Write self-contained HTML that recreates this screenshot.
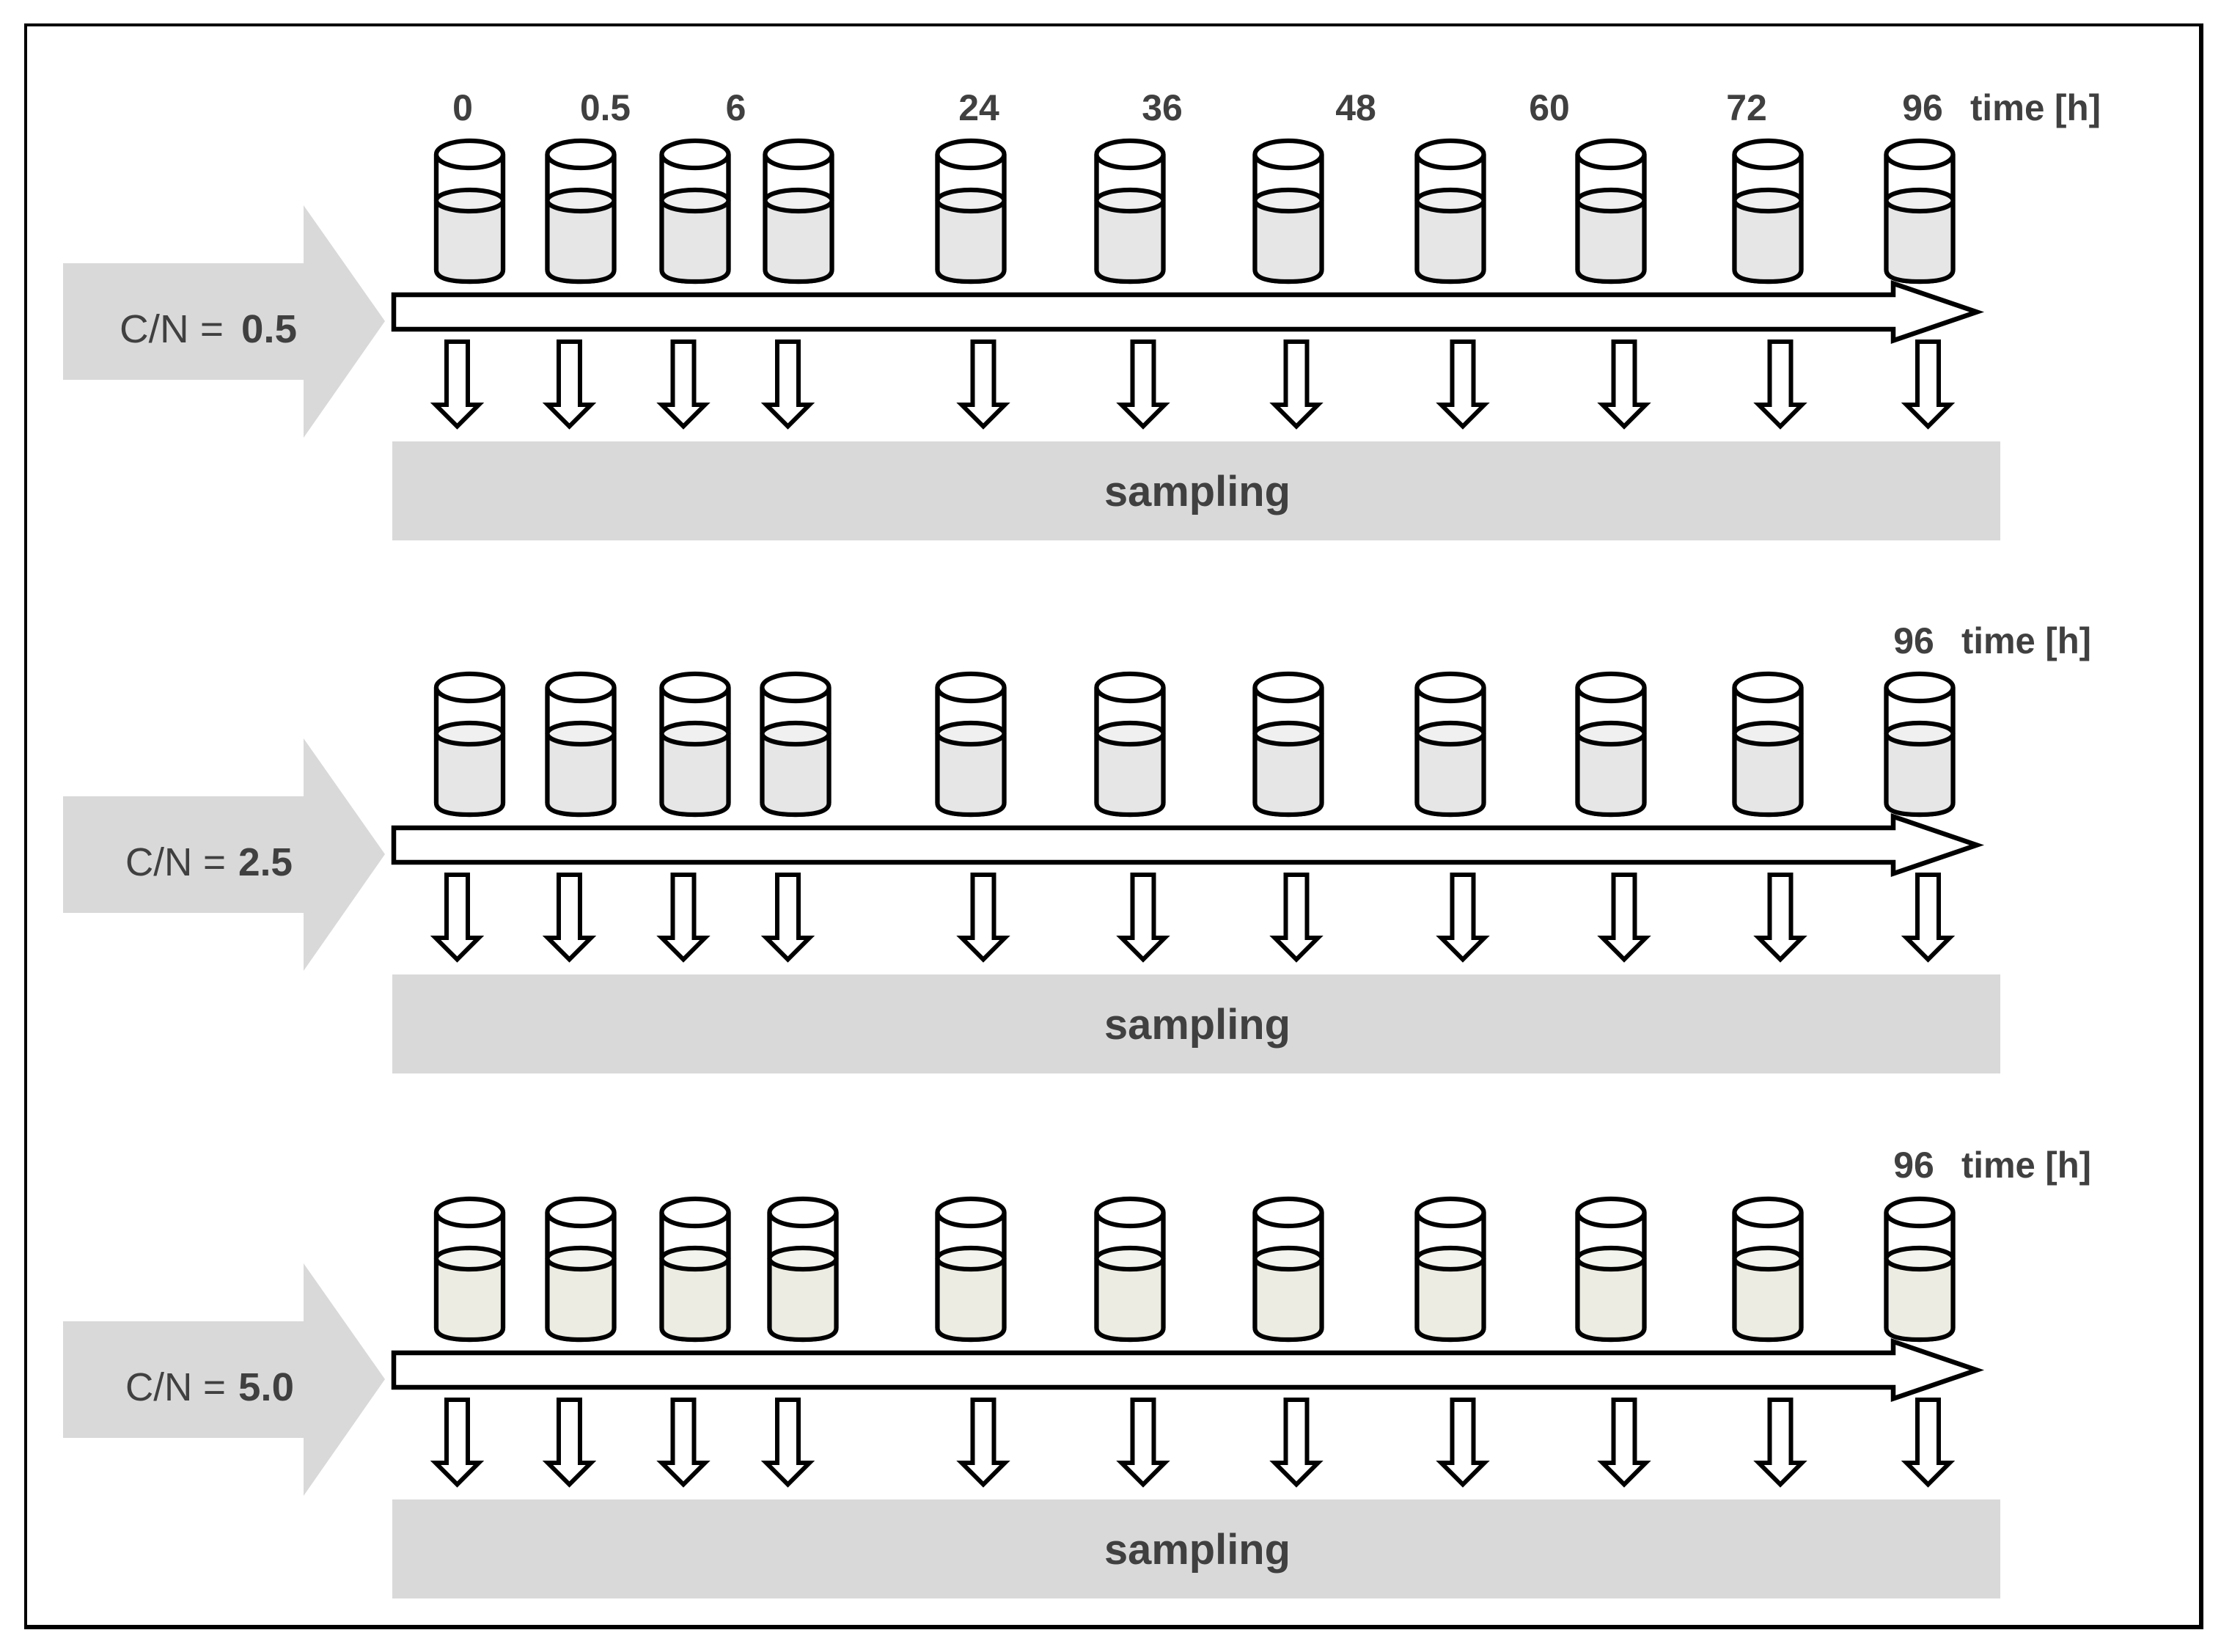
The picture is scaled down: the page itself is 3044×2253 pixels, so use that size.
<!DOCTYPE html>
<html lang="en">
<head>
<meta charset="utf-8">
<title>C/N sampling diagram</title>
<style>
html,body{margin:0;padding:0;background:#fff;}
svg{display:block;}
text{font-family:"Liberation Sans",sans-serif;fill:#404040;}
.b{font-weight:bold;font-size:50px;}
.s{font-weight:bold;font-size:58px;}
.c{font-size:54px;}
.k{font-weight:bold;font-size:54px;}
</style>
</head>
<body>
<svg xmlns="http://www.w3.org/2000/svg" width="3044" height="2253" viewBox="0 0 3044 2253">
<defs>
<g id="cg" stroke="#000" stroke-width="6.2">
<path d="M-45.5,210.5 V368 Q-45.5,384 0,384 Q45.5,384 45.5,368 V210.5" fill="#fff"/>
<path d="M-45.5,273.5 V368 Q-45.5,384 0,384 Q45.5,384 45.5,368 V273.5 Z" fill="#e6e6e6" stroke="none"/>
<path d="M-45.5,210.5 V368 Q-45.5,384 0,384 Q45.5,384 45.5,368 V210.5" fill="none"/>
<ellipse cx="0" cy="273.5" rx="45.5" ry="14.5" fill="#f0f0f0"/>
<ellipse cx="0" cy="210.5" rx="45.5" ry="18.5" fill="#fff"/>
</g>
<g id="cy" stroke="#000" stroke-width="6.2">
<path d="M-45.5,210.5 V368 Q-45.5,384 0,384 Q45.5,384 45.5,368 V210.5" fill="#fff"/>
<path d="M-45.5,273.5 V368 Q-45.5,384 0,384 Q45.5,384 45.5,368 V273.5 Z" fill="#edece2" stroke="none"/>
<path d="M-45.5,210.5 V368 Q-45.5,384 0,384 Q45.5,384 45.5,368 V273.5 Z" fill="none" stroke="none"/>
<path d="M-45.5,210.5 V368 Q-45.5,384 0,384 Q45.5,384 45.5,368 V210.5" fill="none"/>
<ellipse cx="0" cy="273.5" rx="45.5" ry="14.5" fill="#f4f4ef"/>
<ellipse cx="0" cy="210.5" rx="45.5" ry="18.5" fill="#fff"/>
</g>
<path id="da" d="M-14.5,466 H14.5 V552 H29.5 L0,581.5 L-29.5,552 H-14.5 Z" fill="#fff" stroke="#000" stroke-width="6" stroke-miterlimit="10"/>
<g id="frame">
<polygon points="86,359 414,359 414,280 525,438 414,597 414,518 86,518" fill="#d9d9d9"/>
<rect x="535" y="602" width="2193" height="135" fill="#d9d9d9"/>
<use href="#da" x="623.5"/>
<use href="#da" x="776.5"/>
<use href="#da" x="932"/>
<use href="#da" x="1074.5"/>
<use href="#da" x="1341"/>
<use href="#da" x="1559"/>
<use href="#da" x="1768"/>
<use href="#da" x="1995"/>
<use href="#da" x="2215"/>
<use href="#da" x="2428"/>
<use href="#da" x="2629.5"/>
<text class="s" x="1506" y="690" textLength="254" lengthAdjust="spacingAndGlyphs">sampling</text>
</g>
<path id="bar" d="M537,402 H2582 V386.5 L2696,425.5 L2582,464.5 V449 H537 Z" fill="#fff" stroke="#000" stroke-width="6.5" stroke-miterlimit="10"/>
</defs>

<rect x="35" y="34" width="2967" height="2185" fill="#fff" stroke="none"/>
<path d="M33,32 H3005 V2222 H33 Z M37,36 V2216 H2999 V36 Z" fill="#000" fill-rule="evenodd"/>

<!-- Row 1 -->
<g>
<use href="#frame"/>
<use href="#cg" x="640.5"/>
<use href="#cg" x="792"/>
<use href="#cg" x="948"/>
<use href="#cg" x="1089"/>
<use href="#cg" x="1324"/>
<use href="#cg" x="1541"/>
<use href="#cg" x="1757"/>
<use href="#cg" x="1978"/>
<use href="#cg" x="2197"/>
<use href="#cg" x="2411"/>
<use href="#cg" x="2618"/>
<use href="#bar"/>
<text class="c" x="163" y="467" textLength="142" lengthAdjust="spacingAndGlyphs">C/N =</text>
<text class="k" x="329" y="467" textLength="76" lengthAdjust="spacingAndGlyphs">0.5</text>
<text class="b" x="631" y="164" text-anchor="middle">0</text>
<text class="b" x="791" y="164" textLength="69" lengthAdjust="spacingAndGlyphs">0.5</text>
<text class="b" x="1003.5" y="164" text-anchor="middle">6</text>
<text class="b" x="1335" y="164" text-anchor="middle">24</text>
<text class="b" x="1585" y="164" text-anchor="middle">36</text>
<text class="b" x="1849" y="164" text-anchor="middle">48</text>
<text class="b" x="2113" y="164" text-anchor="middle">60</text>
<text class="b" x="2382" y="164" text-anchor="middle">72</text>
<text class="b" x="2622" y="164" text-anchor="middle">96</text>
<text class="b" x="2687" y="164" textLength="178" lengthAdjust="spacingAndGlyphs">time [h]</text>
</g>

<!-- Row 2 -->
<g transform="translate(0,727)">
<use href="#frame"/>
<use href="#cg" x="640.5"/>
<use href="#cg" x="792"/>
<use href="#cg" x="948"/>
<use href="#cg" x="1085"/>
<use href="#cg" x="1324"/>
<use href="#cg" x="1541"/>
<use href="#cg" x="1757"/>
<use href="#cg" x="1978"/>
<use href="#cg" x="2197"/>
<use href="#cg" x="2411"/>
<use href="#cg" x="2618"/>
<use href="#bar"/>
<text class="c" x="171" y="467" textLength="137" lengthAdjust="spacingAndGlyphs">C/N =</text>
<text class="k" x="325" y="467" textLength="74" lengthAdjust="spacingAndGlyphs">2.5</text>
<text class="b" x="2610" y="164" text-anchor="middle">96</text>
<text class="b" x="2675" y="164" textLength="177" lengthAdjust="spacingAndGlyphs">time [h]</text>
</g>

<!-- Row 3 -->
<g transform="translate(0,1443)">
<use href="#frame"/>
<use href="#cy" x="640.5"/>
<use href="#cy" x="792"/>
<use href="#cy" x="948"/>
<use href="#cy" x="1095"/>
<use href="#cy" x="1324"/>
<use href="#cy" x="1541"/>
<use href="#cy" x="1757"/>
<use href="#cy" x="1978"/>
<use href="#cy" x="2197"/>
<use href="#cy" x="2411"/>
<use href="#cy" x="2618"/>
<use href="#bar"/>
<text class="c" x="171" y="467" textLength="137" lengthAdjust="spacingAndGlyphs">C/N =</text>
<text class="k" x="325" y="467" textLength="76" lengthAdjust="spacingAndGlyphs">5.0</text>
<text class="b" x="2610" y="163" text-anchor="middle">96</text>
<text class="b" x="2675" y="163" textLength="177" lengthAdjust="spacingAndGlyphs">time [h]</text>
</g>
</svg>
</body>
</html>
